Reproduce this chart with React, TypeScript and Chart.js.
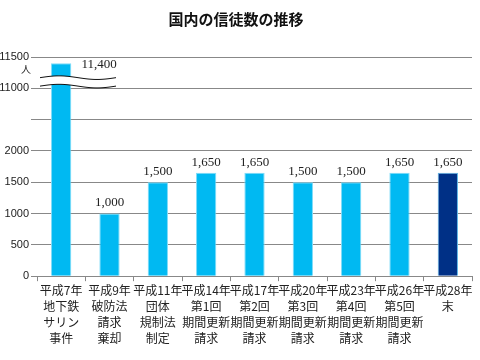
import React, { useEffect, useRef } from "react";
import { Chart, registerables } from "chart.js";

Chart.register(...registerables);

const title = "国内の信徒数の推移";
const categories: string[][] = [
  ["平成7年", "地下鉄", "サリン", "事件"],
  ["平成9年", "破防法", "請求", "棄却"],
  ["平成11年", "団体", "規制法", "制定"],
  ["平成14年", "第1回", "期間更新", "請求"],
  ["平成17年", "第2回", "期間更新", "請求"],
  ["平成20年", "第3回", "期間更新", "請求"],
  ["平成23年", "第4回", "期間更新", "請求"],
  ["平成26年", "第5回", "期間更新", "請求"],
  ["平成28年", "末"],
];
const members = [11400, 1000, 1500, 1650, 1650, 1500, 1500, 1650, 1650];
const lowerTicks = [0, 500, 1000, 1500, 2000];
const upperTicks = [11000, 11500];
const unitLabel = "人";

// axis break: values above the break are shifted down by this offset
const BREAK_OFFSET = 8000;
const toAxis = (v: number) => (v > 2500 ? v - BREAK_OFFSET : v);
const fromAxis = (v: number) => (v > 2500 ? v + BREAK_OFFSET : v);

const BLUE = "#00B9F2";
const BLUE_EDGE = "#7FDCF8";
const NAVY = "#003086";
const NAVY_EDGE = "#5FB6E6";

export default function App() {
  const ref = useRef<HTMLCanvasElement | null>(null);
  useEffect(() => {
    if (!ref.current) return;
    const labelsPlugin = {
      id: "valueLabels",
      afterDatasetsDraw(chart: any) {
        const ctx = chart.ctx;
        const meta = chart.getDatasetMeta(0);
        ctx.save();
        ctx.font = "13px 'Liberation Serif'";
        ctx.fillStyle = "#222";
        meta.data.forEach((bar: any, i: number) => {
          const txt = members[i].toLocaleString("en-US");
          if (members[i] > 2500) {
            ctx.textAlign = "center";
            ctx.textBaseline = "middle";
            ctx.fillText(txt, bar.x + 38, bar.y + 1);
          } else {
            ctx.textAlign = "center";
            ctx.textBaseline = "bottom";
            ctx.fillText(txt, bar.x, bar.y - 4);
          }
        });
        ctx.restore();
      },
    };
    const breakPlugin = {
      id: "axisBreak",
      afterDraw(chart: any) {
        const ctx = chart.ctx;
        const y = chart.scales.y;
        const y1 = y.getPixelForValue(3170);
        const y2 = y.getPixelForValue(3035);
        const x0 = chart.chartArea.left + 3;
        const x1 = x0 + 76;
        const wave = (x: number) => -Math.sin(((x - x0) / (x1 - x0)) * Math.PI * 2) * 1.8;
        ctx.save();
        ctx.beginPath();
        for (let x = x0; x <= x1; x++) ctx.lineTo(x, y1 + wave(x));
        for (let x = x1; x >= x0; x--) ctx.lineTo(x, y2 + wave(x));
        ctx.closePath();
        ctx.fillStyle = "#fff";
        ctx.fill();
        ctx.strokeStyle = "#111";
        ctx.lineWidth = 1;
        [y1, y2].forEach((yy) => {
          ctx.beginPath();
          for (let x = x0; x <= x1; x++) ctx.lineTo(x, yy + wave(x));
          ctx.stroke();
        });
        // unit label
        ctx.font = "10px 'Noto Sans CJK JP'";
        ctx.fillStyle = "#222";
        ctx.textAlign = "right";
        ctx.textBaseline = "middle";
        ctx.fillText(unitLabel, 31, y.getPixelForValue(3500) + 12);
        ctx.restore();
      },
    };
    const chart = new Chart(ref.current, {
      type: "bar",
      data: {
        labels: categories,
        datasets: [
          {
            data: members.map(toAxis),
            backgroundColor: members.map((_, i) => (i === members.length - 1 ? NAVY : BLUE)),
            borderColor: members.map((_, i) => (i === members.length - 1 ? NAVY_EDGE : BLUE_EDGE)),
            borderWidth: 1,
            categoryPercentage: 1,
            barPercentage: 0.42,
          },
        ],
      },
      options: {
        animation: false,
        responsive: false,
        maintainAspectRatio: false,
        layout: { padding: { top: 0, right: 8, left: 0, bottom: 13 } },
        plugins: {
          legend: { display: false },
          tooltip: { enabled: false },
          title: {
            display: true,
            text: title,
            color: "#111",
            font: { family: "'Noto Sans CJK JP'", size: 15, weight: "bold" },
            padding: { top: 10, bottom: 29 },
          },
        },
        scales: {
          x: {
            offset: true,
            grid: {
              offset: true,
              drawOnChartArea: false,
              drawTicks: true,
              tickLength: 5,
              color: "#888",
            },
            border: { display: true, color: "#888" },
            ticks: {
              color: "#222",
              font: { family: "'Noto Sans CJK JP'", size: 12, lineHeight: 1.33 },
              padding: 1,
              maxRotation: 0,
              autoSkip: false,
            },
          },
          y: {
            min: 0,
            max: 3500,
            afterFit(scale: any) {
              scale.width = 37;
            },
            afterBuildTicks(scale: any) {
              const vals = [...lowerTicks, 2500, ...upperTicks.map(toAxis)];
              scale.ticks = vals.map((v) => ({ value: v }));
            },
            grid: { color: "#888", tickLength: 6 },
            border: { display: false },
            ticks: {
              color: "#222",
              padding: 2,
              font: { family: "'Liberation Sans'", size: 11 },
              callback: (v: any) => (v === 2500 ? "" : String(fromAxis(Number(v)))),
            },
          },
        },
      },
      plugins: [labelsPlugin, breakPlugin],
    });
    return () => chart.destroy();
  }, []);
  return (
    <div style={{ position: "fixed", left: 0, top: 0, width: 480, height: 360, background: "#fff" }}>
      <canvas ref={ref} width={480} height={360} style={{ width: 480, height: 360 }} />
    </div>
  );
}
